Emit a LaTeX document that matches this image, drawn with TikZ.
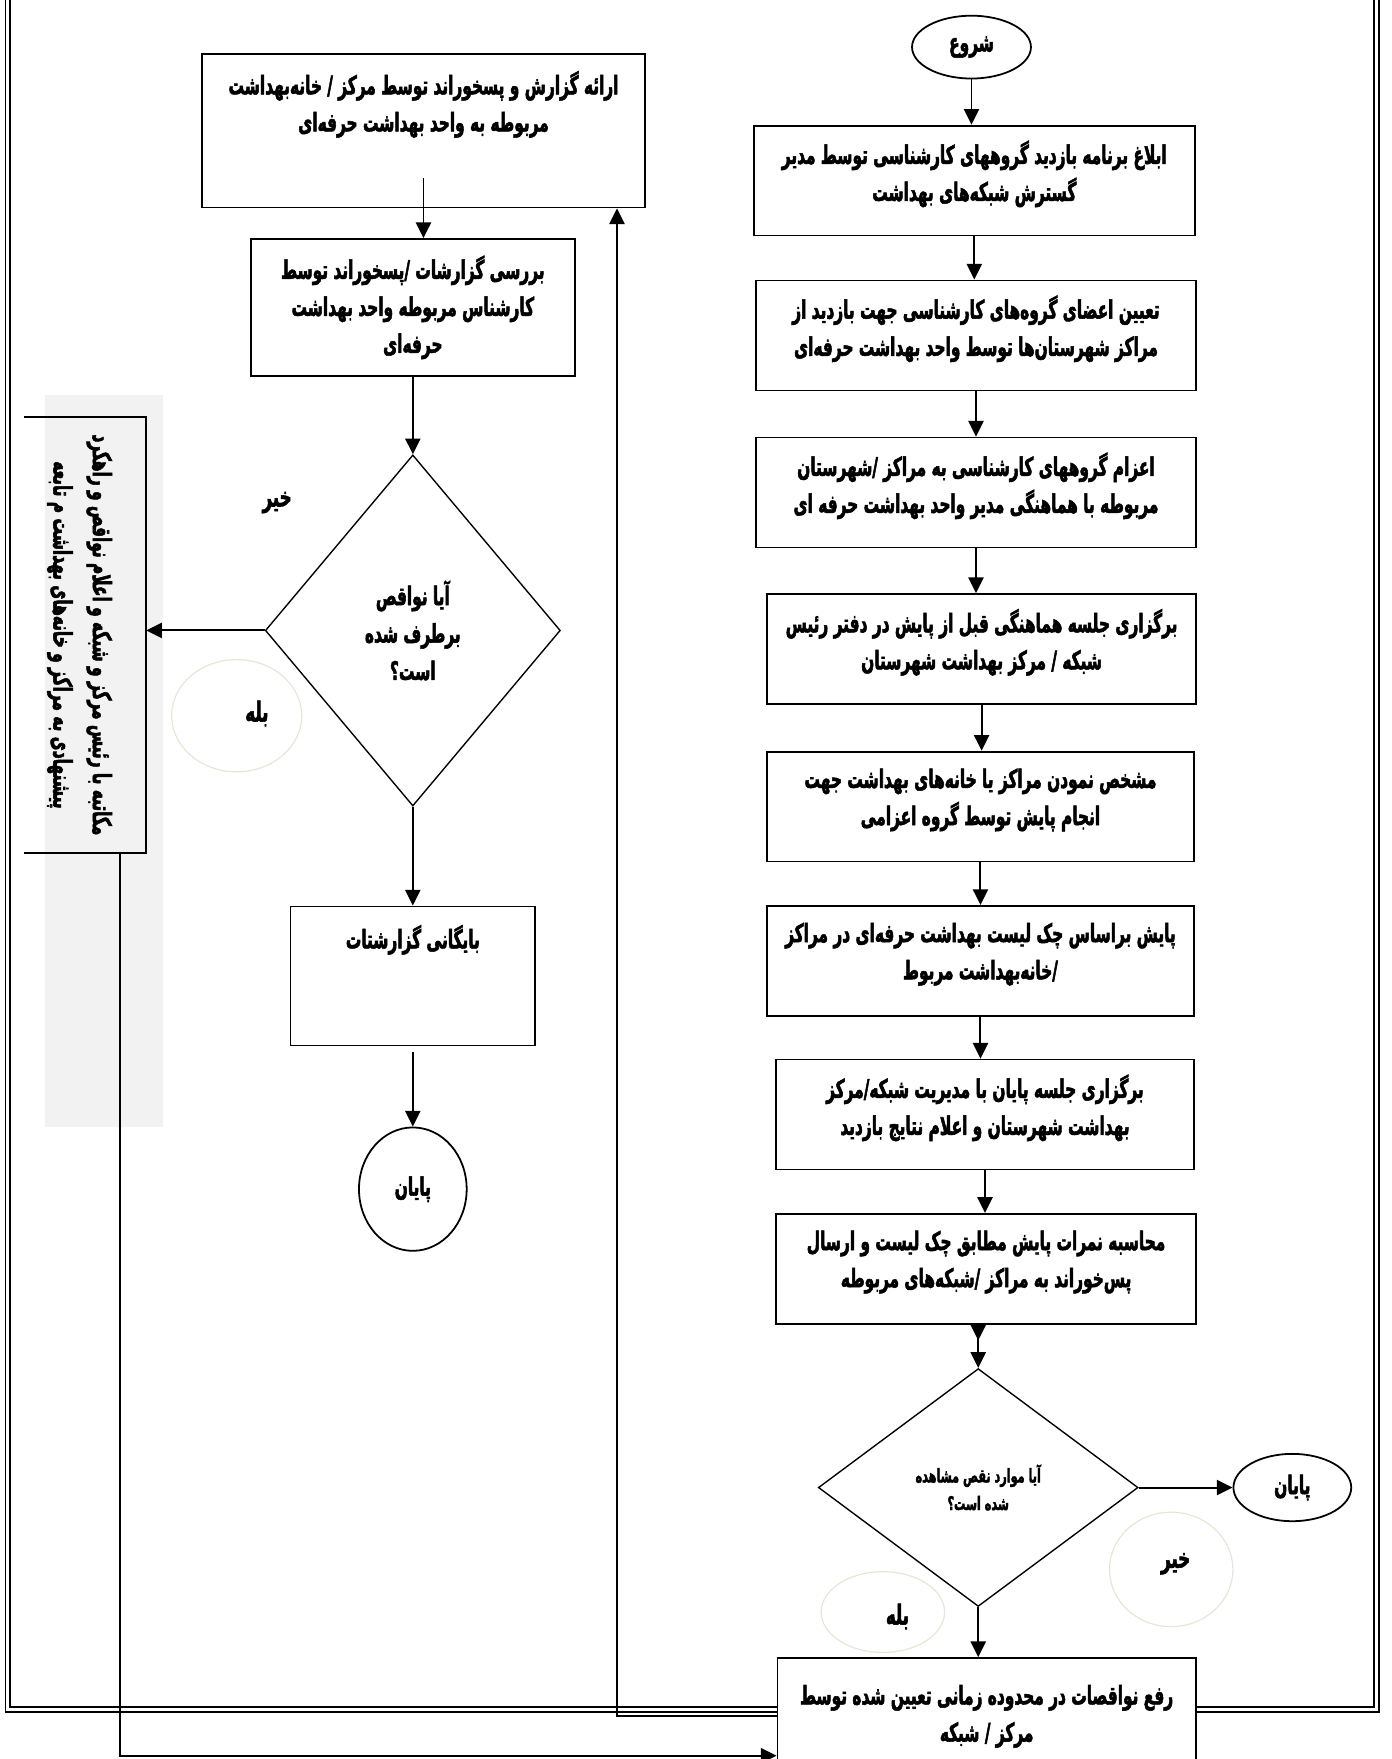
\documentclass[tikz,border=0pt]{standalone}
\usepackage{fontspec}
\usetikzlibrary{shapes.geometric,arrows.meta}
\TeXXeTstate=1
\newfontfamily\arabicfont[Script=Arabic,FakeStretch=0.6,BoldFeatures={FakeBold=2}]{DejaVu Sans}
\newcommand{\fatext}[1]{\beginR#1\endR}
\definecolor{pale}{RGB}{232,228,214}
\definecolor{letterbg}{RGB}{242,242,242}
\tikzset{
  box/.style={draw, line width=0.9pt, fill=white, align=center, inner sep=0pt,
    font=\arabicfont\bfseries\fontsize{13}{18.8}\selectfont},
  stage/.style={box, minimum height=19.6mm, text depth=3.5mm},
  oval/.style={draw, ellipse, line width=0.9pt, inner sep=0pt,
    font=\arabicfont\bfseries\fontsize{13}{14}\selectfont},
  decision/.style={draw, diamond, line width=0.7pt, inner sep=0pt, align=center},
  flow/.style={-{Triangle[length=2.8mm,width=2.7mm]}, line width=1pt},
  tag/.style={font=\arabicfont\bfseries\fontsize{14}{15}\selectfont},
  pale ring/.style={draw=pale, line width=0.6pt}
}
\begin{document}
\begin{tikzpicture}[x=0.2mm,y=-0.2mm]
\useasboundingbox (0,0) rectangle (1240,1568);
% grey panel behind the letter box
\fill[letterbg] (40,352) rectangle (145,1005);
% page frame
\draw[line width=0.8pt] (5,-10) rectangle (1229.5,1526);
\draw[line width=0.8pt] (9,-10) rectangle (1225,1521.5);

% right column
\node[oval, minimum width=21.2mm, minimum height=11.2mm] (start) at (866,42) {\fatext{شروع}};
\node[stage, minimum width=78.6mm] (inform) at (868.5,161)
  {\fatext{ابلاغ برنامه بازدید گروههای کارشناسی توسط مدیر}\\\fatext{گسترش شبکه‌های بهداشت}};
\node[stage, minimum width=78.4mm] (assign) at (870,299)
  {\fatext{تعیین اعضای گروه‌های کارشناسی جهت بازدید از}\\\fatext{مراکز شهرستان‌ها توسط واحد بهداشت حرفه‌ای}};
\node[stage, minimum width=78.4mm] (dispatch) at (870,439)
  {\fatext{اعزام گروههای کارشناسی به مراکز /شهرستان}\\\fatext{مربوطه با هماهنگی مدیر واحد بهداشت حرفه ای}};
\node[stage, minimum width=76.4mm] (meetA) at (875,578.5)
  {\fatext{برگزاری جلسه هماهنگی قبل از پایش در دفتر رئیس}\\\fatext{شبکه / مرکز بهداشت شهرستان}};
\node[stage, minimum width=76mm] (select) at (874,719)
  {\fatext{مشخص نمودن مراکز یا خانه‌های بهداشت جهت}\\\fatext{انجام پایش توسط گروه اعزامی}};
\node[stage, minimum width=76mm] (monitor) at (874,856.5)
  {\fatext{پایش براساس چک لیست بهداشت حرفه‌ای در مراکز}\\\fatext{/خانه‌بهداشت مربوط}};
\node[stage, minimum width=74.4mm] (meetB) at (878,993.5)
  {\fatext{برگزاری جلسه پایان با مدیریت شبکه/مرکز}\\\fatext{بهداشت شهرستان و اعلام نتایج بازدید}};
\node[stage, minimum width=74.8mm] (score) at (879,1131)
  {\fatext{محاسبه نمرات پایش مطابق چک لیست و ارسال}\\\fatext{پس‌خوراند به مراکز /شبکه‌های مربوطه}};
\node[decision, minimum width=57mm, minimum height=42.4mm,
  font=\arabicfont\bfseries\fontsize{9.5}{14}\selectfont] (faults) at (872,1326)
  {\fatext{آیا موارد نقص مشاهده}\\\fatext{شده است؟}};
\node[oval, minimum width=21mm, minimum height=12mm] (endR) at (1152,1326) {\fatext{پایان}};
\node[box, minimum width=74.6mm, minimum height=20.8mm] (fix) at (879.5,1530)
  {\fatext{رفع نواقصات در محدوده زمانی تعیین شده توسط}\\\fatext{مرکز / شبکه}};

% left column
\node[box, minimum width=79mm, minimum height=27.4mm, text depth=10.5mm] (report) at (377.5,116.5)
  {\fatext{ارائه گزارش و پسخوراند توسط مرکز / خانه‌بهداشت}\\\fatext{مربوطه به واحد بهداشت حرفه‌ای}};
\node[box, minimum width=57.8mm, minimum height=24.4mm] (review) at (368,274)
  {\fatext{بررسی گزارشات /پسخوراند توسط}\\\fatext{کارشناس مربوطه واحد بهداشت}\\\fatext{حرفه‌ای}};
\node[decision, minimum width=52.6mm, minimum height=62.6mm,
  font=\arabicfont\bfseries\fontsize{13}{19}\selectfont] (solved) at (368,562)
  {\fatext{آیا نواقص}\\\fatext{برطرف شده}\\\fatext{است؟}};
\node[box, minimum width=43.6mm, minimum height=24.8mm, text depth=14mm] (archive) at (368,870)
  {\fatext{بایگانی گزارشتات}};
\node[oval, minimum width=19.2mm, minimum height=22mm] (endL) at (368,1060) {\fatext{پایان}};

% letter box
\node[minimum width=21.6mm, minimum height=77.6mm] (notice) at (76,566) {};
\draw[line width=0.9pt] (notice.north west) -- (notice.north east)
  -- (notice.south east) -- (notice.south west);
\node[rotate=-90, align=center, font=\arabicfont\bfseries\fontsize{13}{20}\selectfont] (letter) at (71,566)
  {\fatext{مکاتبه با رئیس مرکز و شبکه و اعلام نواقص و راهکرد}\\\fatext{پیشنهادی به مراکز و خانه‌های بهداشت م تابعه}};

% yes / no
\draw[pale ring] (211,638) ellipse [x radius=11.6mm, y radius=10mm];
\node[tag] (yes1) at (229,636) {\fatext{بله}};
\node[tag] (no1) at (247,448) {\fatext{خیر}};
\draw[pale ring] (1044,1399) ellipse [x radius=11mm, y radius=10.2mm];
\node[tag] (no2) at (1048,1394) {\fatext{خیر}};
\draw[pale ring] (787,1437) ellipse [x radius=11mm, y radius=7.2mm];
\node[tag] (yes2) at (800,1441) {\fatext{بله}};

% arrows
\draw[flow] (start.south) -- (start.south |- inform.north);
\draw[flow] (inform.south) -- (inform.south |- assign.north);
\draw[flow] (assign.south) -- (assign.south |- dispatch.north);
\draw[flow] (dispatch.south) -- (dispatch.south |- meetA.north);
\draw[flow] (meetA.south) -- (meetA.south |- select.north);
\draw[flow] (select.south) -- (select.south |- monitor.north);
\draw[flow] (monitor.south) -- (monitor.south |- meetB.north);
\draw[flow] (meetB.south) -- (meetB.south |- score.north);
\draw[flow] (faults.north |- score.south) -- ++(0,14);
\draw[flow] (faults.north |- score.south) -- (faults.north);
\draw[flow] (faults.east) -- (endR.west);
\draw[flow] (faults.south) -- (faults.south |- fix.north);
\draw[flow] ([yshift=5.4mm]report.south) -- (report.south |- review.north);
\draw[flow] (review.south) -- (solved.north);
\draw[flow] (solved.west) -- (solved.west -| notice.east);
\draw[flow] (solved.south) -- (archive.north);
\draw[flow] ([yshift=-1mm]archive.south) -- (endL.north);
\draw[flow] (fix.west) -| (550,0 |- report.south);
\draw[flow] (107,0 |- notice.south) |- ([yshift=-7mm]fix.west);
\end{tikzpicture}
\end{document}
